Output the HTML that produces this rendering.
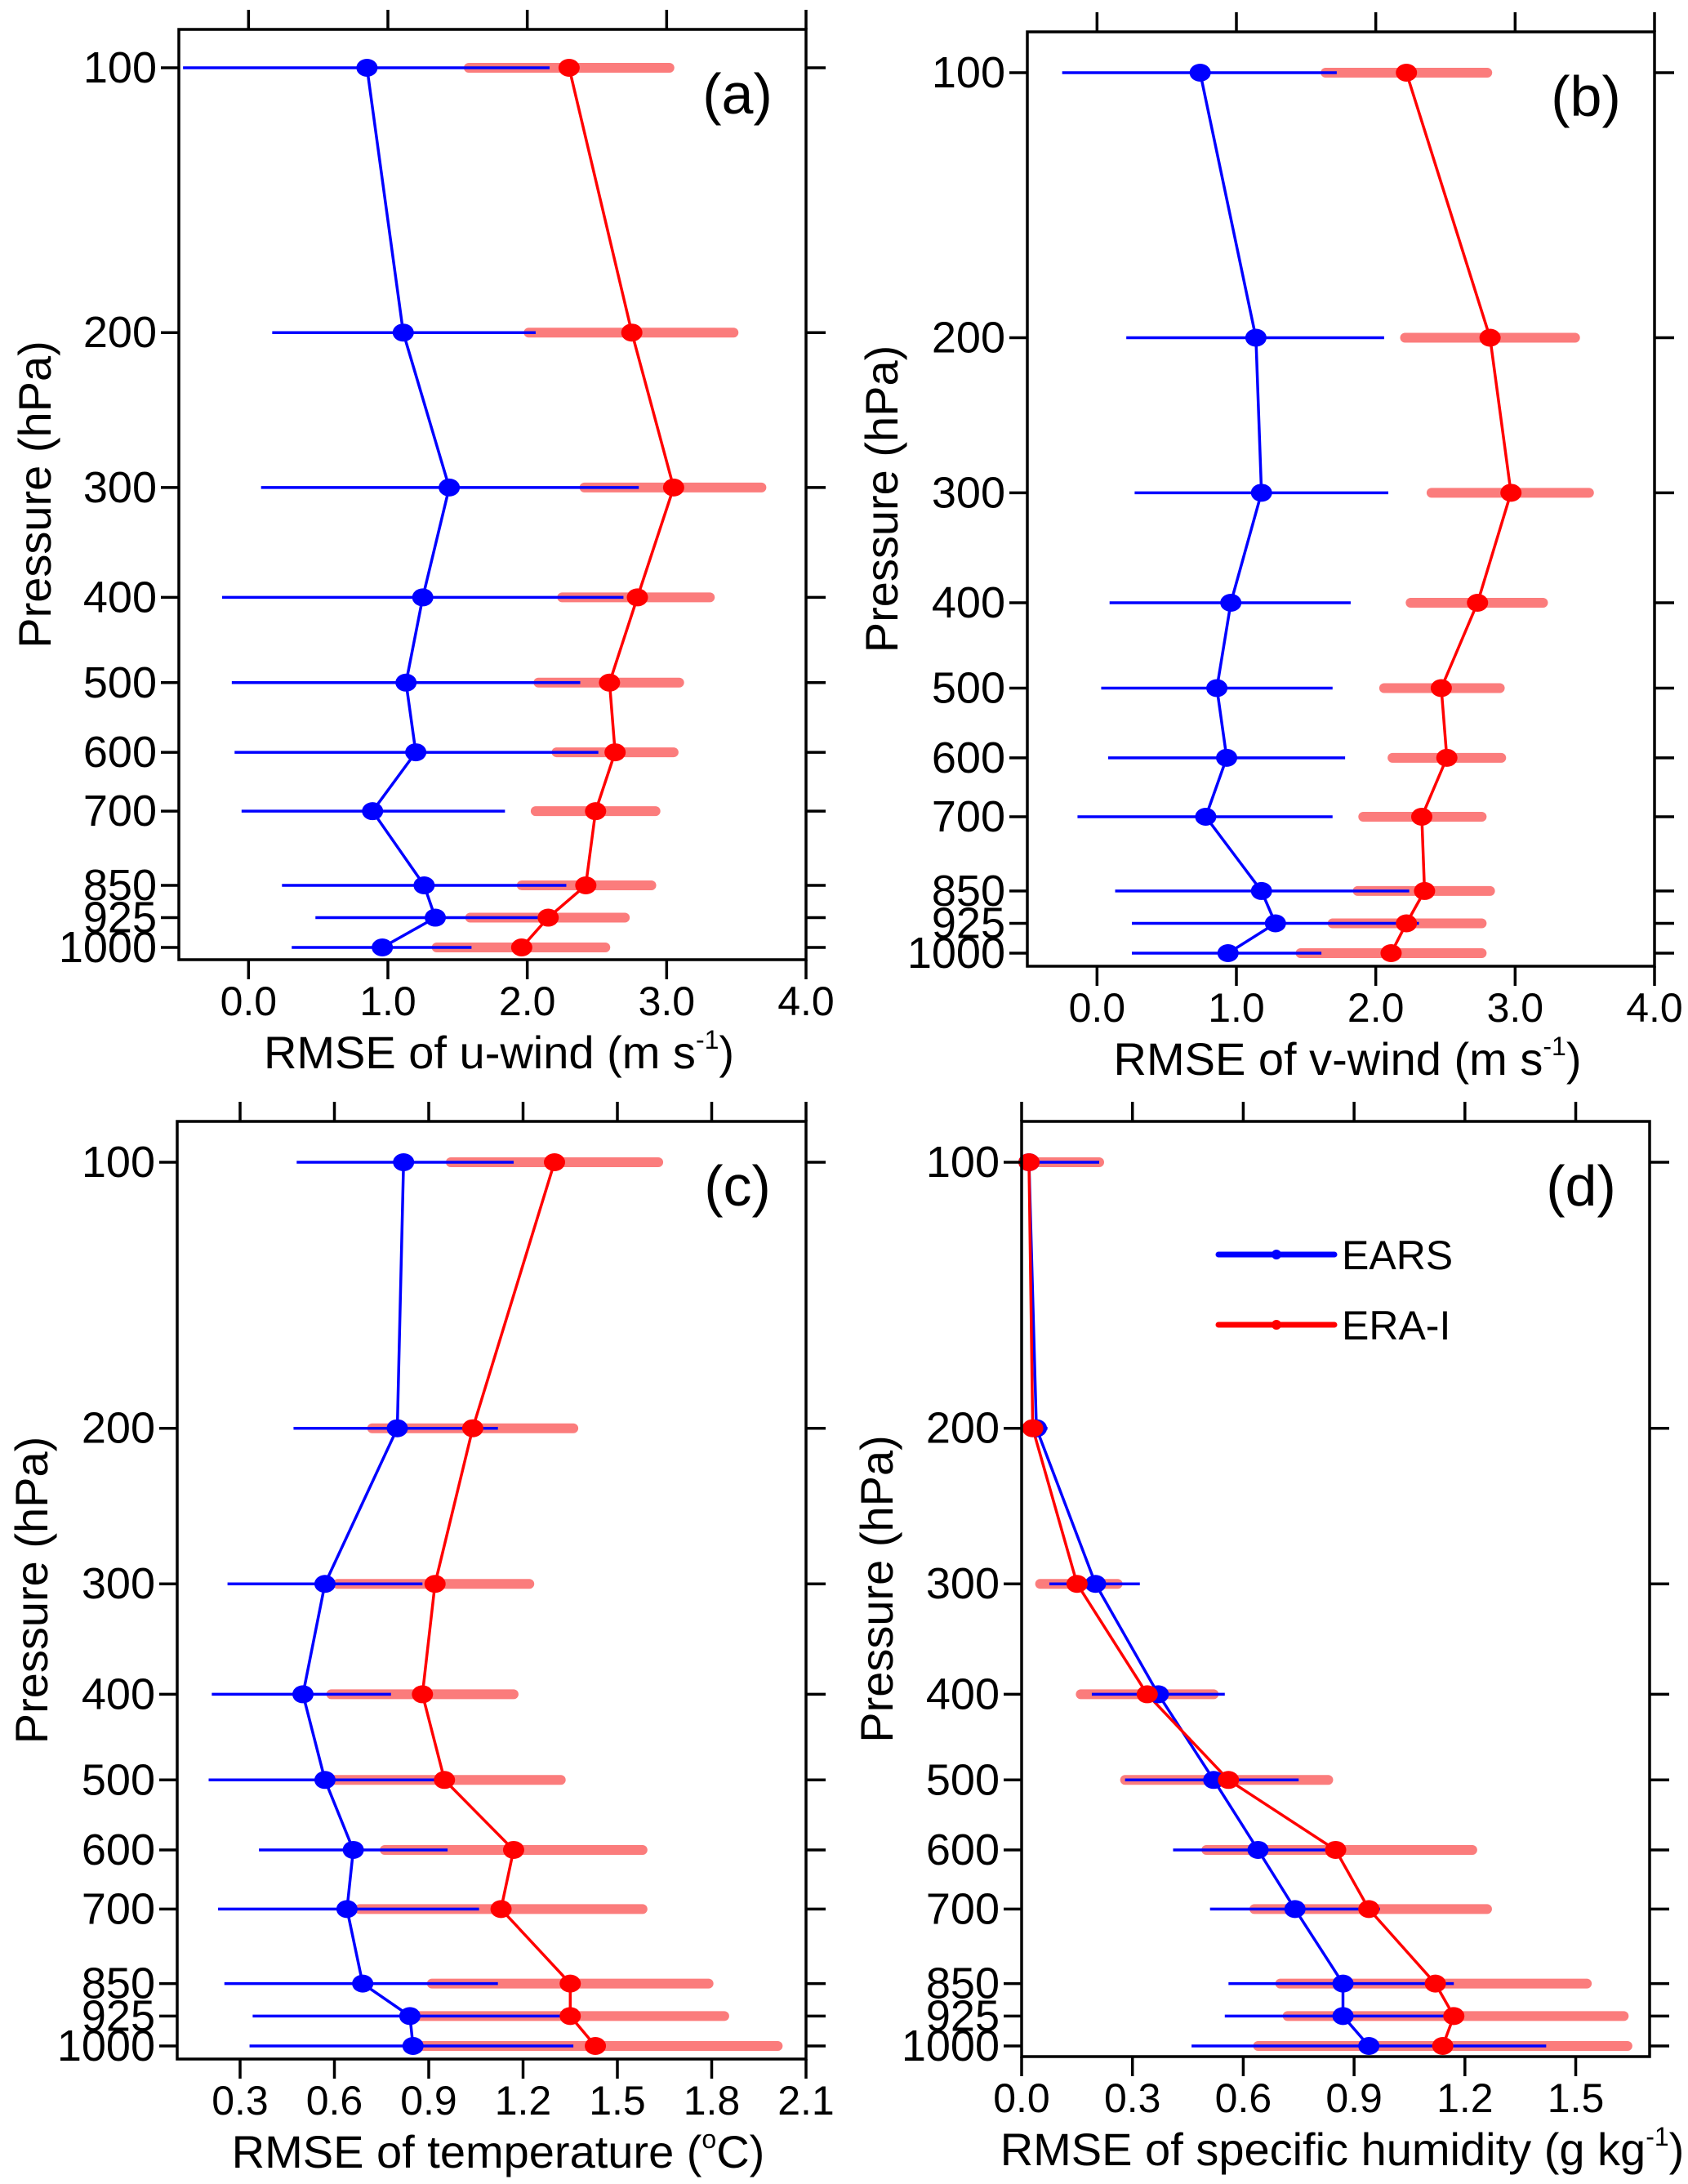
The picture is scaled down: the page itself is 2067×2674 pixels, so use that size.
<!DOCTYPE html>
<html><head><meta charset="utf-8"><style>
html,body{margin:0;padding:0;background:#fff;}
svg{display:block;}
text{font-family:"Liberation Sans",sans-serif;fill:#000;}
</style></head><body>
<svg id="fig" width="2067" height="2674" viewBox="0 0 2067 2674" xmlns="http://www.w3.org/2000/svg"></svg>
<script>
const levels = [100,200,300,400,500,600,700,850,925,1000];
// Panel a: u-wind
const aEars = [0.85,1.11,1.44,1.25,1.13,1.20,0.89,1.26,1.34,0.96];
const aEarsLo = [-0.47,0.17,0.09,-0.19,-0.12,-0.10,-0.05,0.24,0.48,0.31];
const aEarsHi = [2.16,2.06,2.80,2.69,2.38,2.51,1.84,2.28,2.21,1.60];
const aEra = [2.30,2.75,3.05,2.79,2.59,2.63,2.49,2.42,2.15,1.96];
const aEraLo = [1.58,2.01,2.41,2.25,2.08,2.21,2.06,1.96,1.59,1.35];
const aEraHi = [3.02,3.48,3.68,3.31,3.09,3.05,2.92,2.89,2.70,2.56];
const aTicks = [0.0,1.0,2.0,3.0,4.0];
// Panel b: v-wind
const bEars = [0.74,1.14,1.18,0.96,0.86,0.93,0.78,1.18,1.28,0.94];
const bEarsLo = [-0.25,0.21,0.27,0.09,0.03,0.08,-0.14,0.13,0.25,0.25];
const bEarsHi = [1.72,2.06,2.09,1.82,1.69,1.78,1.69,2.24,2.31,1.61];
const bEra = [2.22,2.82,2.97,2.73,2.47,2.51,2.33,2.35,2.22,2.11];
const bEraLo = [1.64,2.21,2.40,2.25,2.06,2.12,1.91,1.87,1.69,1.46];
const bEraHi = [2.80,3.43,3.53,3.20,2.89,2.90,2.76,2.82,2.76,2.76];
const bTicks = [0.0,1.0,2.0,3.0,4.0];
// Panel c: temperature
const cEars = [0.82,0.80,0.57,0.50,0.57,0.66,0.64,0.69,0.84,0.85];
const cEarsLo = [0.48,0.47,0.26,0.21,0.20,0.36,0.23,0.25,0.34,0.33];
const cEarsHi = [1.17,1.12,0.88,0.78,0.94,0.96,1.06,1.12,1.33,1.36];
const cEra = [1.30,1.04,0.92,0.88,0.95,1.17,1.13,1.35,1.35,1.43];
const cEraLo = [0.97,0.72,0.61,0.59,0.59,0.76,0.68,0.91,0.86,0.85];
const cEraHi = [1.63,1.36,1.22,1.17,1.32,1.58,1.58,1.79,1.84,2.01];
const cTicks = [0.3,0.6,0.9,1.2,1.5,1.8,2.1];
// Panel d: specific humidity
const dEars = [0.02,0.04,0.20,0.37,0.52,0.64,0.74,0.87,0.87,0.94];
const dEarsLo = [0.00,0.01,0.075,0.19,0.28,0.41,0.51,0.56,0.55,0.46];
const dEarsHi = [0.21,0.07,0.32,0.55,0.75,0.86,0.97,1.17,1.18,1.42];
const dEra = [0.02,0.03,0.15,0.34,0.56,0.85,0.94,1.12,1.17,1.14];
const dEraLo = [0.01,0.01,0.05,0.16,0.28,0.50,0.63,0.70,0.72,0.64];
const dEraHi = [0.21,0.05,0.26,0.52,0.83,1.22,1.26,1.53,1.63,1.64];
const dTicks = [0.0,0.3,0.6,0.9,1.2,1.5];

const NS = 'http://www.w3.org/2000/svg';
const svg = document.getElementById('fig');
function mk(tag, attrs, parent){
  const e = document.createElementNS(NS, tag);
  for (const k in attrs) e.setAttribute(k, attrs[k]);
  (parent||svg).appendChild(e);
  return e;
}

function panel(cfg){
  const g = mk('g', {});
  
  
  const L=cfg.left, R=cfg.right, T=cfg.top, B=cfg.bottom;
  const xs = v => L + (v - cfg.xmin) / (cfg.xmax - cfg.xmin) * (R - L);
  const ys = p => cfg.y1000 - Math.log10(1000/p) * (cfg.y1000 - cfg.y100);

  levels.forEach((p,i)=>{
    const e = mk('line',{x1:xs(cfg.eraLo[i]),x2:xs(cfg.eraHi[i]),y1:ys(p),y2:ys(p),stroke:'#fb7c7c','stroke-width':12,'stroke-linecap':'round'},g);
    
    
  });
  levels.forEach((p,i)=>{
    const e = mk('line',{x1:xs(cfg.earsLo[i]),x2:xs(cfg.earsHi[i]),y1:ys(p),y2:ys(p),stroke:'#0000ff','stroke-width':3.5},g);
    
    
  });
  const series = [[cfg.ears,'#0000ff','ears'],[cfg.era,'#ff0000','era-i']];
  series.forEach(s=>{
    const pts = levels.map((p,i)=>xs(s[0][i]).toFixed(1)+','+ys(p).toFixed(1)).join(' ');
    const pl = mk('polyline',{points:pts,fill:'none',stroke:s[1],'stroke-width':3.5},g);
    
    
  });
  series.forEach(s=>{
    levels.forEach((p,i)=>{
      const c = mk('ellipse',{cx:xs(s[0][i]),cy:ys(p),rx:13,ry:11,fill:s[1]},g);
      
      
    });
  });
  const fr = mk('rect',{x:L,y:T,width:R-L,height:B-T,fill:'none',stroke:'#000','stroke-width':3.5},g);
  
  
  cfg.ticks.forEach(v=>{
    const x = xs(v);
    mk('line',{x1:x,x2:x,y1:T,y2:T-24,stroke:'#000','stroke-width':3.5},g);
    mk('line',{x1:x,x2:x,y1:B,y2:B+24,stroke:'#000','stroke-width':3.5},g);
    const t = mk('text',{x:x,y:B+68,'font-size':50,'text-anchor':'middle'},g);
    t.textContent = v.toFixed(1);
    
    
  });
  levels.forEach(p=>{
    const y = ys(p);
    mk('line',{x1:L,x2:L-22,y1:y,y2:y,stroke:'#000','stroke-width':3.5},g);
    mk('line',{x1:R,x2:R+24,y1:y,y2:y,stroke:'#000','stroke-width':3.5},g);
    const t = mk('text',{x:L-27,y:y+18,'font-size':54,'text-anchor':'end'},g);
    t.textContent = p;
    
    
  });
  const cy = (T+B)/2;
  const yt = mk('text',{x:0,y:0,'font-size':56,'text-anchor':'middle',transform:`translate(${cfg.ytx},${cy}) rotate(-90)`},g);
  yt.textContent = 'Pressure (hPa)';
  
  
  const xt = mk('text',{x:(L+R)/2+8,y:B+133,'font-size':56,'text-anchor':'middle'},g);
  xt.innerHTML = cfg.xtitle;
  
  
  const pl = mk('text',{x:R-84,y:T+103,'font-size':70,'text-anchor':'middle'},g);
  pl.textContent = '(' + cfg.id + ')';
  
  
}

panel({id:'a',left:219,right:987,top:36,bottom:1175,y100:83,y1000:1160,xmin:-0.5,xmax:4.0,ticks:aTicks,ytx:62,
  ears:aEars,earsLo:aEarsLo,earsHi:aEarsHi,era:aEra,eraLo:aEraLo,eraHi:aEraHi,
  xtitle:'RMSE of u-wind (m s<tspan font-size="32" dy="-24">-1</tspan><tspan dy="24">)</tspan>'});
panel({id:'b',left:1258,right:2026,top:39,bottom:1183,y100:89,y1000:1167,xmin:-0.5,xmax:4.0,ticks:bTicks,ytx:1099,
  ears:bEars,earsLo:bEarsLo,earsHi:bEarsHi,era:bEra,eraLo:bEraLo,eraHi:bEraHi,
  xtitle:'RMSE of v-wind (m s<tspan font-size="32" dy="-24">-1</tspan><tspan dy="24">)</tspan>'});
panel({id:'c',left:217,right:987,top:1373,bottom:2521,y100:1423,y1000:2505,xmin:0.1,xmax:2.1,ticks:cTicks,ytx:58,
  ears:cEars,earsLo:cEarsLo,earsHi:cEarsHi,era:cEra,eraLo:cEraLo,eraHi:cEraHi,
  xtitle:'RMSE of temperature (<tspan font-size="32" dy="-24">o</tspan><tspan dy="24">C)</tspan>'});
panel({id:'d',left:1251,right:2020,top:1373,bottom:2518,y100:1423,y1000:2505,xmin:0.0,xmax:1.7,ticks:dTicks,ytx:1093,
  ears:dEars,earsLo:dEarsLo,earsHi:dEarsHi,era:dEra,eraLo:dEraLo,eraHi:dEraHi,
  xtitle:'RMSE of specific humidity (g kg<tspan font-size="32" dy="-24">-1</tspan><tspan dy="24">)</tspan>'});

const lg = mk('g',{});


[['EARS','#0000ff',1536],['ERA-I','#ff0000',1622]].forEach(e=>{
  const row = mk('g',{},lg);
  
  
  mk('line',{x1:1492,x2:1634,y1:e[2],y2:e[2],stroke:e[1],'stroke-width':7,'stroke-linecap':'round'},row);
  mk('circle',{cx:1563,cy:e[2],r:6,fill:e[1]},row);
  const t = mk('text',{x:1643,y:e[2]+18,'font-size':50},row);
  t.textContent = e[0];
});
</script>
</body></html>
